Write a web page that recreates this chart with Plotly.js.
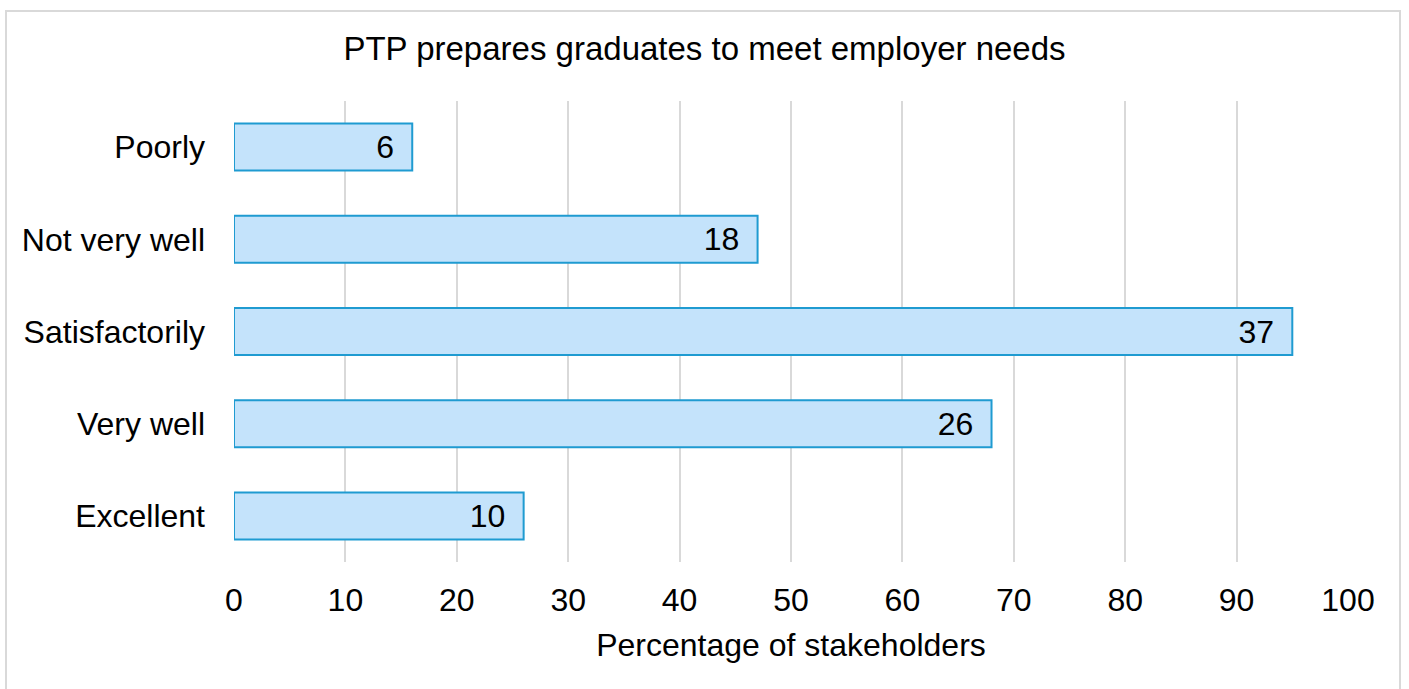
<!DOCTYPE html>
<html>
<head>
<meta charset="utf-8">
<script src="https://cdn.plot.ly/plotly-3.0.1.min.js"></script>
<style>
  html, body { margin: 0; padding: 0; background: #ffffff; }
  #chart { width: 1409px; height: 689px; }
  #frame { position: absolute; left: 5px; top: 10px; width: 1396px; height: 700px;
           border: 2px solid #d9d9d9; pointer-events: none; box-sizing: border-box; }
</style>
</head>
<body>
<div id="chart"></div>
<div id="frame"></div>
<script>
const categories = ["Poorly", "Not very well", "Satisfactorily", "Very well", "Excellent"];
const percentages = [16, 47, 95, 68, 26];
const counts = [6, 18, 37, 26, 10];
const xTicks = [0, 10, 20, 30, 40, 50, 60, 70, 80, 90, 100];

const FONT = "Liberation Sans, Arial, sans-serif";

const trace = {
  type: "bar",
  orientation: "h",
  y: categories,
  x: percentages,
  text: counts.map(c => String(c) + "\u00A0\u2009"),
  textposition: "inside",
  insidetextanchor: "end",
  textangle: 0,
  constraintext: "none",
  textfont: { family: FONT, size: 32, color: "#000000" },
  marker: {
    color: "#c4e3fb",
    line: { color: "#1f9bd1", width: 2 }
  },
  hoverinfo: "none",
  cliponaxis: false
};

const layout = {
  width: 1409,
  height: 689,
  paper_bgcolor: "#ffffff",
  plot_bgcolor: "#ffffff",
  margin: { l: 234, r: 61, t: 101, b: 127 },
  bargap: 0.49,
  showlegend: false,
  font: { family: FONT, color: "#000000" },
  title: {
    text: "PTP prepares graduates to meet employer needs",
    font: { family: FONT, size: 33, color: "#000000" },
    x: 0.5, xanchor: "center",
    y: 1 - 48 / 689, yanchor: "middle", yref: "container"
  },
  xaxis: {
    range: [0, 100],
    tickvals: xTicks,
    ticktext: xTicks.map(String),
    showgrid: true,
    gridcolor: "#d9d9d9",
    gridwidth: 2,
    zeroline: false,
    showline: false,
    ticks: "",
    ticklabelstandoff: 16,
    tickfont: { family: FONT, size: 32, color: "#000000" },
    title: {
      text: "Percentage of stakeholders",
      font: { family: FONT, size: 32, color: "#000000" },
      standoff: 16
    },
    fixedrange: true
  },
  yaxis: {
    type: "category",
    autorange: "reversed",
    showgrid: false,
    zeroline: false,
    showline: false,
    ticks: "",
    ticklabelstandoff: 28,
    tickfont: { family: FONT, size: 32, color: "#000000" },
    fixedrange: true
  }
};

Plotly.newPlot("chart", [trace], layout, { displayModeBar: false, staticPlot: true });
</script>
</body>
</html>
